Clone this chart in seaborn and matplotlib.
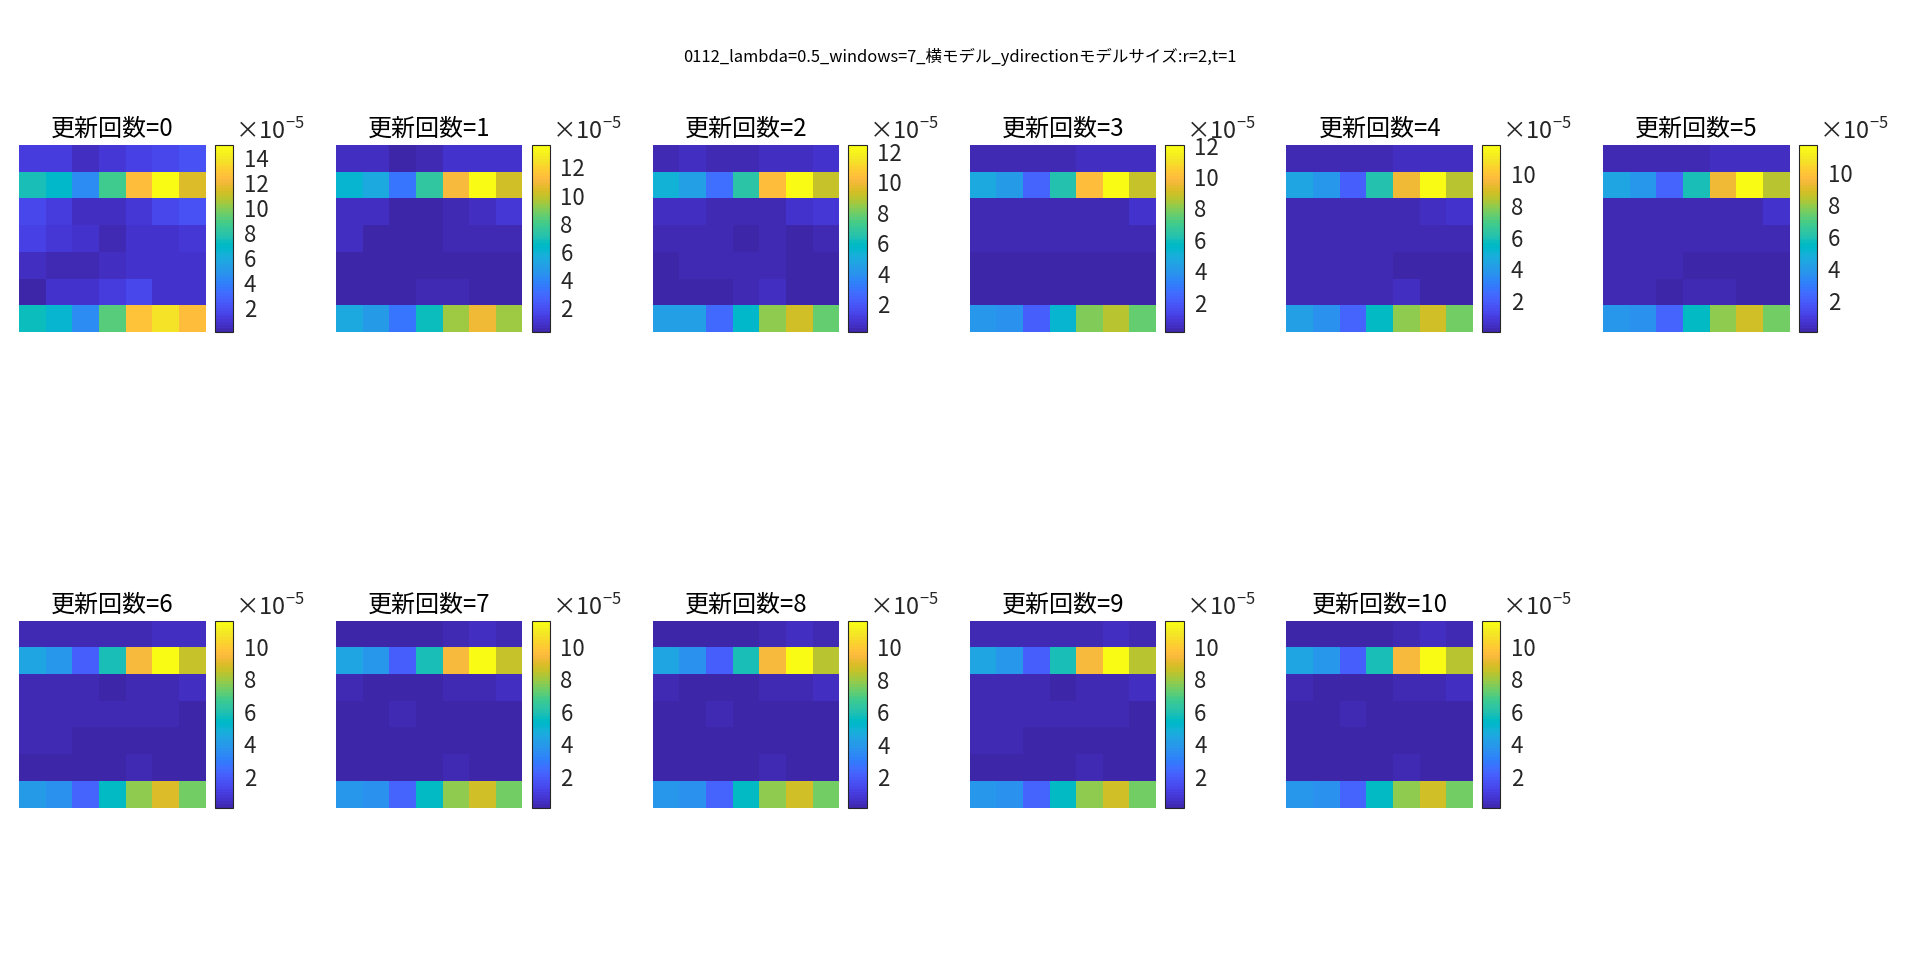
# 更新回数ごとのヒートマップ (7x7) を並べる
import numpy as np
import matplotlib
matplotlib.use("Agg")
import matplotlib.pyplot as plt
from matplotlib.colors import ListedColormap
import seaborn as sns

sns.set_theme(style="white")
plt.rcParams['font.family'] = ['Noto Sans CJK JP', 'DejaVu Sans']

# 値は 1e-5 単位で読み取り
update_0 = [[1.5, 1.5, 0.75, 1.2, 1.6, 1.9, 2.3],
            [7.6, 7.1, 4.6, 8.8, 12.5, 15.0, 11.7],
            [1.9, 1.5, 0.75, 0.6, 1.2, 1.8, 2.4],
            [1.6, 1.2, 1.0, 0.5, 1.0, 0.9, 1.2],
            [0.7, 0.4, 0.4, 0.7, 1.0, 1.0, 1.0],
            [0.13, 0.9, 0.9, 1.5, 1.8, 1.0, 1.0],
            [7.4, 6.7, 4.7, 9.4, 12.8, 14.0, 12.6]]
update_1 = [[0.8, 0.8, 0.4, 0.7, 1.1, 1.1, 1.1],
            [6.3, 5.5, 3.6, 7.7, 11.2, 13.6, 10.3],
            [0.9, 0.8, 0.5, 0.5, 0.7, 0.9, 1.2],
            [0.9, 0.5, 0.5, 0.45, 0.55, 0.6, 0.7],
            [0.4, 0.4, 0.4, 0.35, 0.3, 0.3, 0.3],
            [0.35, 0.35, 0.4, 0.55, 0.6, 0.45, 0.4],
            [5.5, 5.0, 3.6, 6.8, 9.6, 10.9, 9.5]]
update_2 = [[0.5, 0.55, 0.45, 0.45, 0.55, 0.6, 0.75],
            [5.4, 4.7, 2.9, 6.7, 10.4, 12.44, 9.25],
            [0.7, 0.6, 0.45, 0.45, 0.5, 0.75, 1.0],
            [0.5, 0.45, 0.4, 0.3, 0.45, 0.35, 0.4],
            [0.16, 0.45, 0.4, 0.45, 0.4, 0.25, 0.25],
            [0.3, 0.3, 0.3, 0.4, 0.6, 0.2, 0.3],
            [4.7, 4.6, 2.75, 5.8, 8.5, 9.4, 8.0]]
update_3 = [[0.35, 0.4, 0.35, 0.35, 0.55, 0.55, 0.6],
            [4.8, 4.4, 2.5, 6.3, 10.0, 12.04, 9.0],
            [0.45, 0.45, 0.35, 0.35, 0.45, 0.5, 0.7],
            [0.4, 0.4, 0.4, 0.35, 0.4, 0.4, 0.4],
            [0.2, 0.3, 0.2, 0.3, 0.2, 0.2, 0.2],
            [0.3, 0.3, 0.3, 0.3, 0.3, 0.13, 0.2],
            [4.2, 3.9, 2.3, 5.5, 8.0, 8.8, 7.6]]
update_4 = [[0.3, 0.3, 0.3, 0.3, 0.5, 0.5, 0.55],
            [4.65, 4.1, 2.2, 6.2, 9.5, 11.86, 8.7],
            [0.4, 0.35, 0.3, 0.3, 0.4, 0.5, 0.7],
            [0.4, 0.3, 0.35, 0.3, 0.3, 0.3, 0.3],
            [0.3, 0.3, 0.3, 0.25, 0.15, 0.15, 0.2],
            [0.25, 0.25, 0.25, 0.35, 0.5, 0.05, 0.2],
            [4.3, 3.8, 2.3, 5.7, 8.1, 9.0, 7.8]]
update_5 = [[0.3, 0.3, 0.3, 0.25, 0.5, 0.5, 0.5],
            [4.5, 4.0, 2.25, 5.9, 9.5, 11.74, 8.6],
            [0.35, 0.3, 0.3, 0.25, 0.35, 0.4, 0.6],
            [0.35, 0.3, 0.3, 0.25, 0.25, 0.25, 0.25],
            [0.3, 0.3, 0.25, 0.2, 0.1, 0.1, 0.15],
            [0.25, 0.25, 0.2, 0.25, 0.35, 0.05, 0.15],
            [4.0, 3.75, 2.3, 5.6, 8.0, 8.9, 7.7]]
update_6 = [[0.3, 0.3, 0.3, 0.3, 0.45, 0.5, 0.5],
            [4.5, 3.9, 2.2, 5.9, 9.5, 11.6, 8.6],
            [0.35, 0.3, 0.3, 0.25, 0.35, 0.4, 0.6],
            [0.3, 0.3, 0.4, 0.3, 0.3, 0.3, 0.25],
            [0.3, 0.3, 0.25, 0.25, 0.2, 0.12, 0.15],
            [0.25, 0.25, 0.2, 0.25, 0.4, 0.12, 0.15],
            [4.1, 3.8, 2.4, 5.6, 8.0, 9.0, 7.6]]
update_7 = [[0.3, 0.3, 0.3, 0.3, 0.45, 0.5, 0.45],
            [4.45, 3.9, 2.2, 5.9, 9.5, 11.6, 8.6],
            [0.35, 0.3, 0.3, 0.25, 0.35, 0.4, 0.55],
            [0.3, 0.3, 0.4, 0.3, 0.3, 0.3, 0.25],
            [0.3, 0.3, 0.25, 0.25, 0.2, 0.15, 0.15],
            [0.25, 0.25, 0.2, 0.25, 0.4, 0.13, 0.15],
            [4.0, 3.8, 2.35, 5.6, 8.0, 8.85, 7.6]]
update_8 = [[0.3, 0.3, 0.3, 0.3, 0.45, 0.5, 0.45],
            [4.45, 3.9, 2.2, 5.9, 9.5, 11.66, 8.55],
            [0.35, 0.3, 0.3, 0.25, 0.35, 0.4, 0.55],
            [0.3, 0.3, 0.4, 0.3, 0.3, 0.3, 0.25],
            [0.3, 0.3, 0.25, 0.25, 0.2, 0.13, 0.15],
            [0.25, 0.25, 0.2, 0.25, 0.4, 0.12, 0.15],
            [4.05, 3.8, 2.35, 5.6, 8.0, 8.8, 7.6]]
update_9 = [[0.3, 0.3, 0.3, 0.3, 0.45, 0.5, 0.45],
            [4.45, 3.9, 2.2, 5.9, 9.5, 11.6, 8.5],
            [0.35, 0.3, 0.3, 0.25, 0.35, 0.4, 0.55],
            [0.3, 0.3, 0.4, 0.3, 0.3, 0.3, 0.25],
            [0.3, 0.3, 0.25, 0.25, 0.2, 0.15, 0.15],
            [0.25, 0.25, 0.2, 0.25, 0.4, 0.12, 0.15],
            [4.05, 3.8, 2.35, 5.6, 8.0, 8.8, 7.6]]
update_10 = [[0.3, 0.3, 0.3, 0.3, 0.45, 0.5, 0.45],
             [4.45, 3.9, 2.2, 5.9, 9.5, 11.6, 8.5],
             [0.35, 0.3, 0.3, 0.25, 0.35, 0.4, 0.55],
             [0.3, 0.3, 0.4, 0.3, 0.3, 0.3, 0.25],
             [0.3, 0.3, 0.25, 0.25, 0.2, 0.15, 0.15],
             [0.25, 0.25, 0.2, 0.25, 0.4, 0.13, 0.15],
             [4.05, 3.8, 2.35, 5.6, 8.0, 8.8, 7.6]]

updates = [update_0, update_1, update_2, update_3, update_4, update_5,
           update_6, update_7, update_8, update_9, update_10]
update_counts = list(range(11))
main_title = "0112_lambda=0.5_windows=7_横モデル_ydirectionモデルサイズ:r=2,t=1"

# MATLAB の parula
parula = ListedColormap([
    (0.2422, 0.1504, 0.6603), (0.2504, 0.1650, 0.7076), (0.2578, 0.1818, 0.7511), (0.2647, 0.1978, 0.7952),
    (0.2706, 0.2147, 0.8364), (0.2751, 0.2342, 0.8710), (0.2783, 0.2559, 0.8991), (0.2803, 0.2782, 0.9221),
    (0.2813, 0.3006, 0.9414), (0.2810, 0.3228, 0.9579), (0.2795, 0.3447, 0.9717), (0.2760, 0.3667, 0.9829),
    (0.2699, 0.3892, 0.9906), (0.2602, 0.4123, 0.9952), (0.2440, 0.4358, 0.9988), (0.2206, 0.4603, 0.9973),
    (0.1963, 0.4847, 0.9892), (0.1834, 0.5074, 0.9798), (0.1786, 0.5289, 0.9682), (0.1764, 0.5499, 0.9520),
    (0.1687, 0.5703, 0.9359), (0.1540, 0.5902, 0.9218), (0.1460, 0.6091, 0.9079), (0.1380, 0.6276, 0.8973),
    (0.1248, 0.6459, 0.8883), (0.1113, 0.6635, 0.8763), (0.0952, 0.6798, 0.8598), (0.0689, 0.6948, 0.8394),
    (0.0297, 0.7082, 0.8163), (0.0036, 0.7203, 0.7917), (0.0067, 0.7312, 0.7660), (0.0433, 0.7411, 0.7394),
    (0.0964, 0.7500, 0.7120), (0.1408, 0.7584, 0.6842), (0.1717, 0.7670, 0.6554), (0.1938, 0.7758, 0.6251),
    (0.2161, 0.7843, 0.5923), (0.2470, 0.7918, 0.5567), (0.2906, 0.7973, 0.5188), (0.3406, 0.8008, 0.4789),
    (0.3909, 0.8029, 0.4354), (0.4456, 0.8024, 0.3909), (0.5044, 0.7993, 0.3480), (0.5616, 0.7942, 0.3045),
    (0.6174, 0.7876, 0.2612), (0.6720, 0.7793, 0.2227), (0.7242, 0.7698, 0.1910), (0.7738, 0.7598, 0.1646),
    (0.8203, 0.7498, 0.1535), (0.8634, 0.7406, 0.1596), (0.9035, 0.7330, 0.1774), (0.9393, 0.7288, 0.2100),
    (0.9728, 0.7298, 0.2394), (0.9956, 0.7434, 0.2371), (0.9970, 0.7659, 0.2199), (0.9952, 0.7893, 0.2028),
    (0.9892, 0.8136, 0.1885), (0.9786, 0.8386, 0.1766), (0.9676, 0.8639, 0.1643), (0.9610, 0.8890, 0.1537),
    (0.9597, 0.9135, 0.1423), (0.9628, 0.9373, 0.1265), (0.9691, 0.9606, 0.1064), (0.9769, 0.9839, 0.0805),
])

W, H = 1920, 963
TEXT_COLOR = (0.15, 0.15, 0.15)
fig = plt.figure(figsize=(W / 100, H / 100), dpi=100, facecolor="white")


def px_axes(left, top, width, height):
    return fig.add_axes([left / W, 1 - (top + height) / H, width / W, height / H])


for i, (count, values) in enumerate(zip(update_counts, updates)):
    col = i % 6
    left = 19.2 + 316.8 * col
    top = 145 if i < 6 else 620.5
    ax = px_axes(left, top, 186.5, 187)
    cax = px_axes(left + 195.5, top, 18.5, 187)
    values = np.array(values)
    sns.heatmap(values, ax=ax, cbar_ax=cax, cmap=parula,
                xticklabels=False, yticklabels=False)
    ax.set_title(f"更新回数={count}", fontsize=17.3, color="black", pad=6.5)

    cb = ax.collections[0].colorbar
    cb.solids.set_edgecolor("face")
    cb.outline.set_visible(True)
    cb.outline.set_linewidth(0.8)
    cb.outline.set_edgecolor(TEXT_COLOR)
    cb.set_ticks(np.arange(2, values.max() + 0.01, 2))
    cax.tick_params(axis="y", direction="in", length=3, width=0.6, color=TEXT_COLOR,
                    labelcolor=TEXT_COLOR, labelsize=16, pad=7.5, right=True, left=False)

    # 指数の表記
    fig.text((left + 216) / W, 1 - (top - 1) / H, r"×10$^{\mathregular{-5}}$", fontsize=17,
             color=TEXT_COLOR, va="bottom", ha="left")

fig.text(0.5, 1 - 57 / H, main_title, fontsize=11.85, color="black", ha="center", va="center")

fig.savefig("out.png", dpi=100)
